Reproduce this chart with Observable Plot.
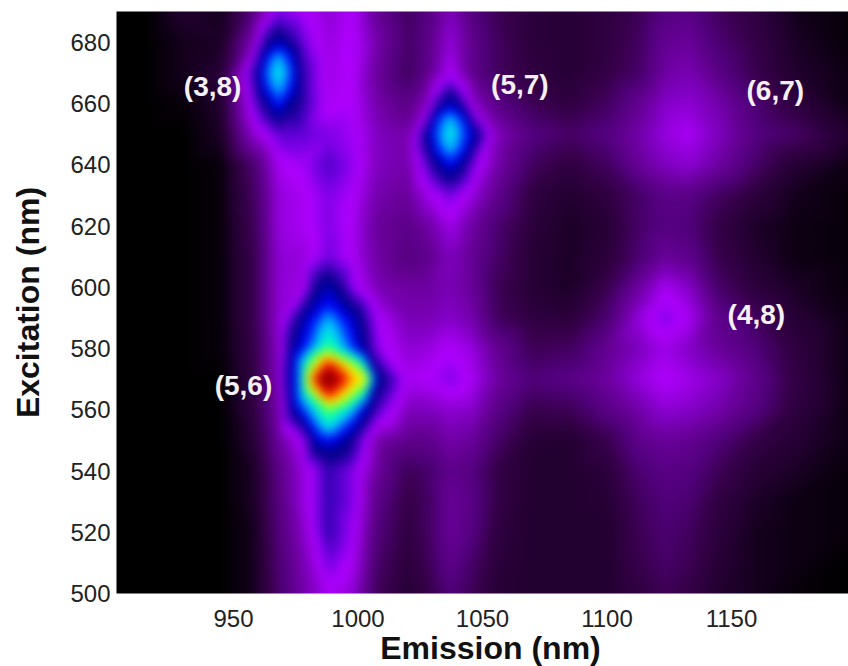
<!DOCTYPE html>
<html>
<head>
<meta charset="utf-8">
<script src="https://cdn.jsdelivr.net/npm/d3@7"></script>
<script src="https://cdn.jsdelivr.net/npm/@observablehq/plot@0.6"></script>
<style>
html,body{margin:0;padding:0;background:#fff}
#chart{width:848px;height:666px;overflow:hidden}
svg{display:block}
</style>
</head>
<body>
<div id="chart"></div>
<script>
const emission = [903,915,930,945,958,968,978,988,998,1008,1020,1028,1037,1046,1056,1070,1085,1100,1113,1123,1133,1145,1160,1175,1197];
const excitation = [690,680,670,660,650,640,630,620,610,600,590,580,570,560,550,540,530,520,510,500];
const intensity = [
 [0,0,5,3,16,33,30,26,30,19,12,16,24,16,11,7,6,8,11,16,17,12,8,3,1],
 [0,0,3,4,24,46,34,27,31,22,13,17,27,18,12,7,6,8,12,19,20,14,9,4,1],
 [0,0,3,6,38,62,38,28,30,20,12,18,30,18,12,8,6,9,13,21,23,17,10,5,2],
 [0,0,1,5,33,52,38,29,30,22,17,25,47,26,17,11,8,12,19,25,26,22,14,8,2],
 [0,0,0,4,26,35,35,33,31,24,22,44,62,47,24,16,13,16,22,27,29,24,16,13,5],
 [0,0,0,1,14,29,31,36,32,24,22,36,50,34,22,12,8,12,20,24,26,21,13,6,2],
 [0,0,0,1,12,27,29,33,30,22,20,28,34,27,18,8,5,8,13,17,17,12,7,3,1],
 [0,0,0,1,11,27,29,33,29,20,17,21,28,21,14,7,4,6,13,16,15,9,4,2,1],
 [0,0,0,1,10,26,27,34,29,21,16,18,24,19,13,6,4,7,14,20,18,10,5,2,1],
 [0,0,0,1,10,26,28,46,32,23,21,21,23,20,11,6,4,10,21,29,25,13,7,4,1],
 [0,0,0,1,10,26,44,57,46,30,23,23,25,22,12,8,7,14,27,33,29,18,12,6,2],
 [0,0,0,1,9,25,50,68,52,32,26,27,30,27,19,11,12,19,24,28,25,20,15,8,2],
 [0,0,0,0,8,24,62,100,82,44,29,30,33,29,21,15,17,21,27,30,28,25,18,9,2],
 [0,0,0,0,8,22,52,70,58,36,24,24,26,25,17,10,11,17,22,26,25,22,16,8,2],
 [0,0,0,0,6,20,31,50,40,22,18,18,22,20,13,6,5,10,18,20,19,15,9,6,2],
 [0,0,0,0,4,17,27,38,33,20,11,13,18,16,9,5,5,7,14,17,16,11,6,4,1],
 [0,0,0,0,4,16,27,38,33,17,9,12,20,17,9,5,5,6,12,15,14,8,4,2,1],
 [0,0,0,0,3,15,25,38,31,15,8,12,20,16,8,5,5,5,11,14,12,7,3,2,1],
 [0,0,0,0,3,14,23,34,29,13,7,11,18,13,7,5,5,5,10,13,11,6,3,2,0],
 [0,0,0,0,3,13,22,29,26,11,6,9,15,11,6,5,5,5,8,11,9,5,3,1,0]
];
// extra readings close to the three sharp peaks
const extraEm = [988,988,988,988,988,988,985,991,980,1003,975,972,978,998,978,998,973,1003,973,1003,983,993,983,993,
  968,968,963,973,963,973,963,973,963,973,963,973,
  1037,1037,1032,1042,1032,1042,1032,1042,1032,1042,1032,1042];
const extraEx = [575,565,585,595,555,545,570,570,570,570,570,570,575,575,565,565,580,580,560,560,600,600,550,550,
  675,665,670,670,675,675,665,665,680,680,660,660,
  655,645,650,650,655,655,645,645,660,660,640,640];
const extraV  = [90,90,62,50,62,42,97,97,77,77,50,42,60,72,60,72,42,42,42,46,41,40,46,46,
  58,58,53,53,49,49,50,50,40,40,42,42,
  58,58,54,54,51,51,51,51,38,38,42,42];
const colorLevels = [0,5,10,15,20,25,30,34,38,42,50,58,64,70,77,84,90,100];
const colorStops = ["#000000","#220030","#38004c","#50007a","#680098","#8400c8","#b000ff","#7000e0","#3000b0","#000080","#0000ff","#00c8ff","#00ffc0","#60ff40","#ffff00","#ff8000","#f00000","#700000"];
const xTicks = [950,1000,1050,1100,1150];
const yTicks = [500,520,540,560,580,600,620,640,660,680];
const peakLabels = ["(3,8)","(5,7)","(6,7)","(4,8)","(5,6)"];
const peakX = [941.6,1065,1167.6,1160,954];
const peakY = [665.3,666,664,591,567.7];

const cells = excitation.flatMap((ex,i)=>emission.map((em,j)=>({em,ex,v:intensity[i][j]})))
  .concat(extraV.map((v,i)=>({em:extraEm[i],ex:extraEx[i],v})));
const peaks = peakLabels.map((label,i)=>({label,x:peakX[i],y:peakY[i]}));
const font = "'Liberation Sans', Arial, Helvetica, sans-serif";

const plot = Plot.plot({
  width:848,height:666,
  marginLeft:116,marginRight:0,marginTop:11,marginBottom:73,
  style:{fontFamily:font,background:"#fff"},
  x:{domain:[903,1197],axis:null},
  y:{domain:[500,690],axis:null},
  color:{type:"linear",domain:colorLevels,range:colorStops,interpolate:"rgb",clamp:true},
  marks:[
    Plot.raster(cells,{x:"em",y:"ex",fill:"v",interpolate:"barycentric",pixelSize:1,blur:4}),
    Plot.axisX({ticks:xTicks,tickFormat:"d",tickSize:0,tickPadding:16,label:null,fontSize:24,fill:"#222"}),
    Plot.axisY({ticks:yTicks,tickFormat:"d",tickSize:0,tickPadding:6,label:null,fontSize:24,fill:"#222",dy:1}),
    Plot.text(["Emission (nm)"],{frameAnchor:"bottom",lineAnchor:"middle",dx:8,dy:55,fontSize:32,fontWeight:"bold",fill:"#111"}),
    Plot.text(["Excitation (nm)"],{frameAnchor:"left",textAnchor:"middle",lineAnchor:"middle",rotate:-90,dx:-88,fontSize:32,fontWeight:"bold",fill:"#111"}),
    Plot.text(peaks,{x:"x",y:"y",text:"label",fill:"#f4f0f4",fontSize:28,fontWeight:"bold"})
  ]
});
document.getElementById("chart").appendChild(plot);
</script>
</body>
</html>
